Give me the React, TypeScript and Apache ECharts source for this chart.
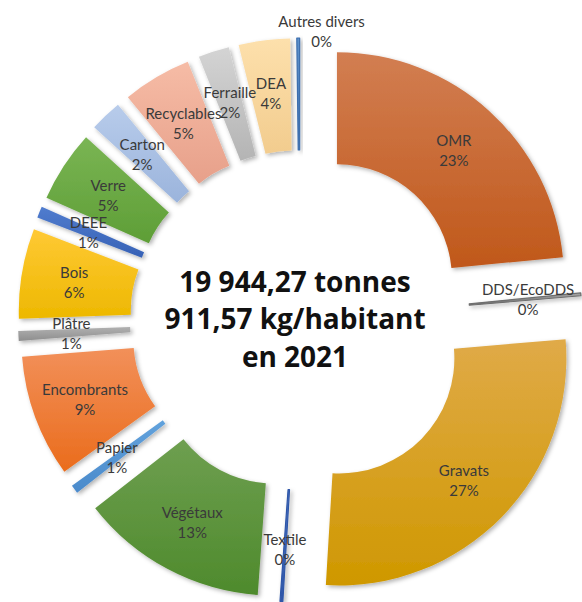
import React, { useEffect, useRef } from 'react';
import * as echarts from 'echarts';

// Categories in clockwise order starting at 12 o'clock
const categories = [
  'OMR', 'DDS/EcoDDS', 'Gravats', 'Textile', 'Végétaux', 'Papier', 'Encombrants', 'Plâtre',
  'Bois', 'DEEE', 'Verre', 'Carton', 'Recyclables', 'Ferraille', 'DEA', 'Autres divers',
];
// Share of the total tonnage (%)
const shares = [23.45, 0.2, 27.3, 0.2, 13.3, 0.6, 8.7, 0.7, 6.4, 0.8, 5.1, 2.3, 4.9, 2.2, 3.65, 0.2];

const centerLines = ['19 944,27 tonnes', '911,57 kg/habitant', 'en 2021'];

// Styles (top colour, bottom colour) per category
const gradients: [string, string][] = [
  ['#D27E52', '#C0581A'], // OMR
  ['#A8A8A8', '#6E6E6E'], // DDS/EcoDDS
  ['#E0AA48', '#CF9800'], // Gravats
  ['#4A74C4', '#2F56A8'], // Textile
  ['#6E9F50', '#4E8A2C'], // Végétaux
  ['#62A2DC', '#4A8ACB'], // Papier
  ['#F2905A', '#EA6C1C'], // Encombrants
  ['#B0B0B0', '#8E8E8E'], // Plâtre
  ['#FFC935', '#EDB800'], // Bois
  ['#507CCE', '#3762B6'], // DEEE
  ['#7AB554', '#5E9E36'], // Verre
  ['#B8CCEB', '#9BB4DC'], // Carton
  ['#F6BCA6', '#E7A08A'], // Recyclables
  ['#D4D4D4', '#B4B4B4'], // Ferraille
  ['#FDE0AC', '#F2CC8E'], // DEA
  ['#5E92CC', '#3C6EAE'], // Autres divers
];

// label nudges: horizontal padding (px) and number of blank trailing lines (lifts the text)
const labelNudge: Record<string, { left: number; lift: number }> = {
  'Autres divers': { left: 46, lift: 6 },
};

export default function App() {
  const ref = useRef<HTMLDivElement>(null);

  useEffect(() => {
    if (!ref.current) return;
    const chart = echarts.init(ref.current, undefined, { renderer: 'svg' });

    const data = categories.map((name, i) => {
      const [c1, c2] = gradients[i];
      const isZero = Math.round(shares[i]) === 0;
      const nudge = labelNudge[name];
      return {
        name,
        value: shares[i],
        selected: true,
        itemStyle: {
          color: new echarts.graphic.LinearGradient(0, 0, 0, 1, [
            { offset: 0, color: c1 },
            { offset: 1, color: c2 },
          ]),
          borderColor: isZero ? c2 : 'transparent',
          borderWidth: isZero ? 1.2 : 0,
        },
        label: nudge ? { padding: [0, 0, 0, nudge.left] } : undefined,
      };
    });

    chart.setOption({
      animation: false,
      backgroundColor: '#ffffff',
      graphic: [
        {
          type: 'text',
          x: 295,
          y: 318,
          style: {
            text: centerLines.join('\n'),
            fontFamily: 'Open Sans',
            fontWeight: 700,
            fontSize: 28,
            lineHeight: 37.5,
            fill: '#111111',
            align: 'center',
            verticalAlign: 'middle',
            textAlign: 'center',
            textVerticalAlign: 'middle',
          },
          z: 100,
        },
      ],
      series: [
        {
          type: 'pie',
          center: [300, 320],
          radius: [115, 227],
          startAngle: 90,
          clockwise: true,
          selectedMode: 'multiple',
          selectedOffset: 55,
          avoidLabelOverlap: false,
          minShowLabelAngle: 0,
          labelLayout: { hideOverlap: false },
          label: {
            show: true,
            position: 'inside',
            formatter: (p: any) => {
              const nudge = labelNudge[p.name];
              const extra = nudge ? '\n '.repeat(nudge.lift) : '';
              return `${p.name}\n${Math.round(p.value)}%${extra}`;
            },
            fontFamily: 'Lato',
            fontSize: 15,
            lineHeight: 20,
            color: '#3a3a3a',
          },
          labelLine: { show: false },
          emphasis: { disabled: true },
          itemStyle: {
            shadowBlur: 4,
            shadowOffsetX: 2,
            shadowOffsetY: 2,
            shadowColor: 'rgba(0,0,0,0.3)',
          },
          data,
        },
      ],
    });

    return () => chart.dispose();
  }, []);

  return (
    <div
      ref={ref}
      style={{ position: 'absolute', left: 0, top: 0, width: 582, height: 602 }}
    />
  );
}
